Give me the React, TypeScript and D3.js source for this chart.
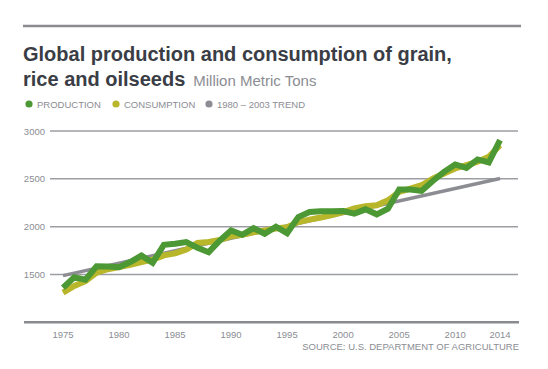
import React from 'react';
import * as d3 from 'd3';

const years = d3.range(1975, 2015);

const production = [
  1362, 1470, 1446, 1586, 1584, 1576, 1630, 1698, 1622, 1810,
  1821, 1838, 1780, 1733, 1856, 1961, 1915, 1985, 1926, 2000,
  1932, 2100, 2153, 2160, 2162, 2163, 2136, 2181, 2129, 2188,
  2388, 2388, 2373, 2478, 2573, 2650, 2615, 2703, 2671, 2905,
];

const consumption = [
  1310, 1380, 1430, 1520, 1555, 1578, 1600, 1630, 1655, 1700,
  1720, 1760, 1830, 1840, 1860, 1900, 1915, 1940, 1960, 1980,
  1995, 2048, 2073, 2095, 2120, 2153, 2190, 2213, 2223, 2275,
  2363, 2398, 2433, 2503, 2556, 2608, 2643, 2678, 2730, 2853,
];

// trend line end points (1980-2003 trend, extended)
const trendYears = [1975, 2014];
const trendValues = [1488, 2503];

const yTicks = [1500, 2000, 2500, 3000];
const xTicks = [1975, 1980, 1985, 1990, 1995, 2000, 2005, 2010, 2014];

const legendItems = [
  { label: 'PRODUCTION', color: '#4b9834', x: 29 },
  { label: 'CONSUMPTION', color: '#b8b62a', x: 116 },
  { label: '1980 – 2003 TREND', color: '#8c8c93', x: 209 },
];

const font = '"Liberation Sans", Arial, sans-serif';
const grey = '#8b8d93';

const App: React.FC = () => {
  const x = d3.scaleLinear().domain([1975, 2014]).range([63, 500]);
  const y = d3.scaleLinear().domain([1000, 3000]).range([322.3, 131]);

  const line = d3
    .line<[number, number]>()
    .x(d => x(d[0]))
    .y(d => y(d[1]));

  const prodPts = years.map((yr, i) => [yr, production[i]] as [number, number]);
  const consPts = years.map((yr, i) => [yr, consumption[i]] as [number, number]);
  const trendPts = trendYears.map((yr, i) => [yr, trendValues[i]] as [number, number]);

  return (
    <svg
      width={548}
      height={369}
      style={{ position: 'absolute', left: 0, top: 0, background: '#fff' }}
      fontFamily={font}
    >
      {/* top rule */}
      <line x1={23} x2={521} y1={26} y2={26} stroke="#8a8b91" strokeWidth={2.5} />

      {/* title */}
      <text x={23} y={61} fontSize={20} fontWeight="bold" fill="#3a3d45">
        Global production and consumption of grain,
      </text>
      <text x={23} y={86} fontSize={20} fontWeight="bold" fill="#3a3d45">
        rice and oilseeds
        <tspan dx={8} fontSize={15} fontWeight="normal" fill={grey}>
          Million Metric Tons
        </tspan>
      </text>

      {/* legend */}
      {legendItems.map(d => (
        <g key={d.label}>
          <circle cx={d.x} cy={104} r={3.6} fill={d.color} />
          <text x={d.x + 8} y={107.5} fontSize={9.5} fill={grey}>
            {d.label}
          </text>
        </g>
      ))}

      {/* gridlines + y labels */}
      {yTicks.map(t => (
        <g key={t}>
          <line x1={50} x2={518} y1={y(t)} y2={y(t)} stroke="#9d9ea3" strokeWidth={1.5} />
          <text x={45} y={y(t) + 3.5} fontSize={9.5} fill={grey} textAnchor="end">
            {t}
          </text>
        </g>
      ))}

      {/* baseline */}
      <line x1={24} x2={519} y1={y(1000)} y2={y(1000)} stroke="#8a8b91" strokeWidth={2.5} />

      {/* x labels */}
      {xTicks.map(t => (
        <text key={t} x={x(t)} y={337.5} fontSize={9.5} fill={grey} textAnchor="middle">
          {t}
        </text>
      ))}

      {/* series */}
      <path d={line(trendPts) ?? ''} fill="none" stroke="#8c8c93" strokeWidth={3.5} />
      <path
        d={line(consPts) ?? ''}
        fill="none"
        stroke="#b8b62a"
        strokeWidth={6}
        strokeLinejoin="miter"
      />
      <path
        d={line(prodPts) ?? ''}
        fill="none"
        stroke="#4b9834"
        strokeWidth={6}
        strokeLinejoin="miter"
      />

      {/* source */}
      <text x={519} y={350} fontSize={9.5} fill={grey} textAnchor="end">
        SOURCE: U.S. DEPARTMENT OF AGRICULTURE
      </text>
    </svg>
  );
};

export default App;
